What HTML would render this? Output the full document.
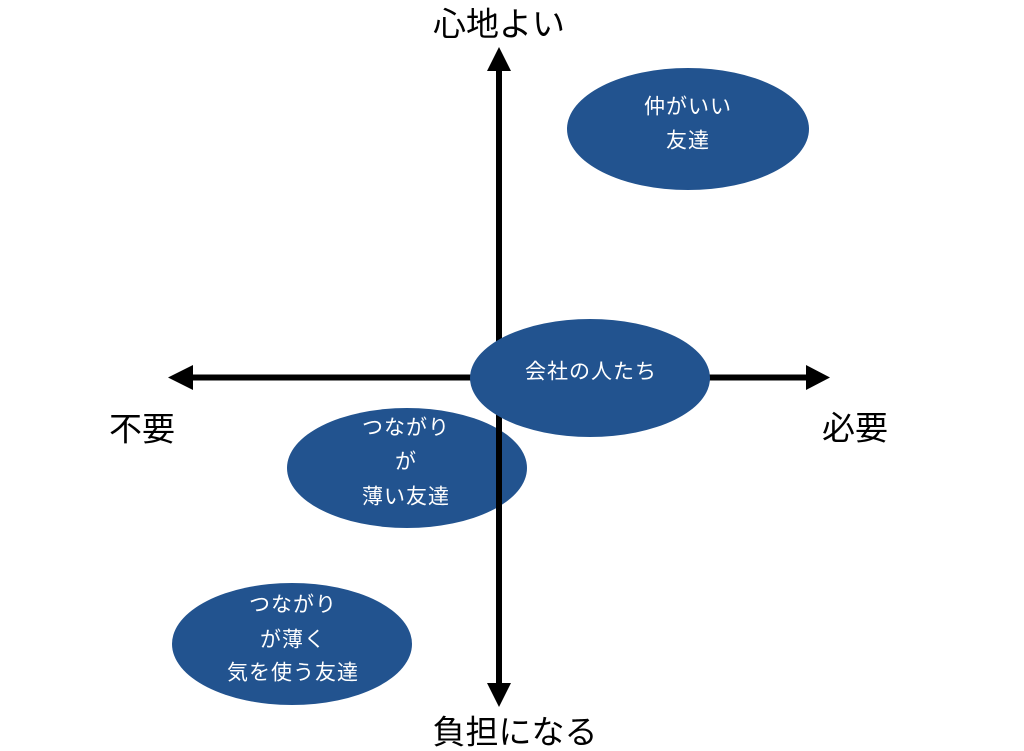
<!DOCTYPE html>
<html>
<head>
<meta charset="utf-8">
<style>
  html, body { margin: 0; padding: 0; background: #ffffff; }
  svg { display: block; }
  .lbl { font-family: "Liberation Sans", "Noto Sans CJK JP", sans-serif; font-size: 33px; fill: #000; }
  .in { font-family: "Liberation Sans", "Noto Sans CJK JP", sans-serif; font-size: 21px; fill: #ffffff; letter-spacing: 1px; }
</style>
</head>
<body>
<svg width="1024" height="751" viewBox="0 0 1024 751" xmlns="http://www.w3.org/2000/svg">
  <rect x="0" y="0" width="1024" height="751" fill="#ffffff"/>

  <!-- ellipse below axes -->
  <ellipse cx="407" cy="468" rx="120" ry="60" fill="#22538f"/>
  <ellipse cx="292" cy="644" rx="120" ry="61" fill="#22538f"/>
  <ellipse cx="688" cy="129" rx="121" ry="61" fill="#22538f"/>

  <!-- vertical axis -->
  <line x1="499" y1="68" x2="499" y2="686" stroke="#000" stroke-width="6"/>
  <polygon points="499,47 487,71 511,71" fill="#000"/>
  <polygon points="499,707 487,683 511,683" fill="#000"/>

  <!-- horizontal axis -->
  <line x1="190" y1="377.5" x2="810" y2="377.5" stroke="#000" stroke-width="6"/>
  <polygon points="168,377.5 193,365 193,390" fill="#000"/>
  <polygon points="830,377.5 806,365 806,390" fill="#000"/>

  <!-- ellipse above axes -->
  <ellipse cx="590" cy="378" rx="120" ry="59" fill="#22538f"/>

  <!-- axis labels -->
  <text class="lbl" x="499" y="24" text-anchor="middle" dominant-baseline="central">心地よい</text>
  <text class="lbl" x="515" y="732" text-anchor="middle" dominant-baseline="central">負担になる</text>
  <text class="lbl" x="142" y="429" text-anchor="middle" dominant-baseline="central">不要</text>
  <text class="lbl" x="855" y="428" text-anchor="middle" dominant-baseline="central">必要</text>

  <!-- ellipse texts -->
  <text class="in" x="688" y="107" text-anchor="middle" dominant-baseline="central">仲がいい</text>
  <text class="in" x="688" y="141" text-anchor="middle" dominant-baseline="central">友達</text>

  <text class="in" x="591" y="372" text-anchor="middle" dominant-baseline="central">会社の人たち</text>

  <text class="in" x="406" y="428" text-anchor="middle" dominant-baseline="central">つながり</text>
  <text class="in" x="406" y="462" text-anchor="middle" dominant-baseline="central">が</text>
  <text class="in" x="406" y="497" text-anchor="middle" dominant-baseline="central">薄い友達</text>

  <text class="in" x="293" y="605" text-anchor="middle" dominant-baseline="central">つながり</text>
  <text class="in" x="293" y="640" text-anchor="middle" dominant-baseline="central">が薄く</text>
  <text class="in" x="293" y="673" text-anchor="middle" dominant-baseline="central">気を使う友達</text>
</svg>
</body>
</html>
